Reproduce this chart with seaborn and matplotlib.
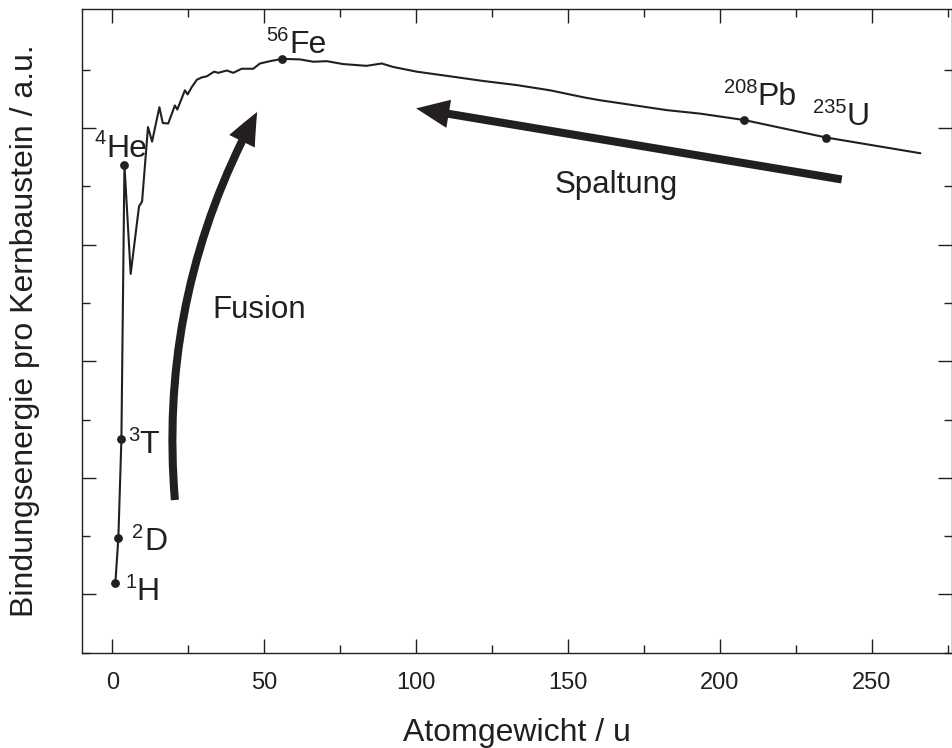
import matplotlib
matplotlib.use("Agg")
import matplotlib.pyplot as plt
from matplotlib.patches import FancyArrowPatch
from matplotlib.ticker import FixedLocator, MultipleLocator, NullFormatter
import seaborn as sns

# binding energy per nucleon (arbitrary units) vs. mass number
mass = [1, 2, 3, 4, 6.05, 8.8, 9.8, 11.75, 13.1, 15.5, 16.6, 18.4, 20.6, 21.4,
        23.9, 24.8, 26.1, 27.8, 29.4, 31.1, 33.5, 34.9, 37.7, 39.8, 42.6, 46.4,
        48.6, 51.9, 56, 61.8, 66.2, 70.6, 76.0, 83.7, 88.7, 92.5, 100.2, 111.2,
        122.1, 133.1, 144.1, 155.1, 160.5, 182.5, 193.5, 208, 235, 266]
energy = [1.19, 1.97, 3.67, 8.37, 6.50, 7.66, 7.74, 9.02, 8.77, 9.36, 9.09, 9.08,
          9.39, 9.32, 9.65, 9.58, 9.70, 9.83, 9.87, 9.89, 9.97, 9.95, 9.99, 9.95,
          10.02, 10.02, 10.11, 10.15, 10.19, 10.18, 10.14, 10.15, 10.10, 10.07,
          10.11, 10.05, 9.97, 9.89, 9.81, 9.74, 9.65, 9.53, 9.48, 9.31, 9.25,
          9.14, 8.84, 8.57]

# marked nuclides
nuc_sup = ["1", "2", "3", "4", "56", "208", "235"]
nuc_sym = ["H", "D", "T", "He", "Fe", "Pb", "U"]
nuc_mass = [1, 2, 3, 4, 56, 208, 235]
nuc_energy = [1.19, 1.97, 3.67, 8.37, 10.19, 9.14, 8.84]

# where each symbol sits relative to its dot (points)
label_offsets = {"H": (15.3, -12.0), "D": (18.4, -8.6), "T": (13.2, -10.1),
                 "He": (-13.2, 6.0), "Fe": (5.0, 4.3), "Pb": (9.8, 10.8),
                 "U": (14.8, 8.9)}

INK = "#231f20"

sns.set_theme(style="ticks")
plt.rcParams["font.family"] = ["Liberation Sans", "DejaVu Sans"]

fig = plt.figure(figsize=(9.52, 7.48), dpi=100)
ax = fig.add_axes([81.7 / 952, 1 - 652.7 / 748, (952 - 81.7) / 952, (652.7 - 9.3) / 748])

sns.lineplot(x=mass, y=energy, sort=False, estimator=None, color=INK, lw=1.5, ax=ax)
sns.scatterplot(x=nuc_mass, y=nuc_energy, s=40, color=INK, linewidth=0, ax=ax, zorder=3)


def nuclide_label(x, y, sup, sym):
    main = ax.annotate(sym, (x, y), xytext=label_offsets[sym], textcoords="offset points",
                       fontsize=23, ha="left", va="baseline", color=INK)
    ax.annotate(sup, xy=(0, 1), xycoords=main, xytext=(-0.3, 3), textcoords="offset points",
                fontsize=14.5, ha="right", va="top", color=INK)


for x, y, sup, sym in zip(nuc_mass, nuc_energy, nuc_sup, nuc_sym):
    nuclide_label(x, y, sup, sym)

# process arrows
style = "simple,head_length=23.8,head_width=20.5,tail_width=5.8"
ax.add_patch(FancyArrowPatch((20.6, 2.62), (47.7, 9.28), arrowstyle=style,
                             connectionstyle="arc3,rad=-0.15", mutation_scale=1,
                             shrinkA=0, shrinkB=0, color=INK, lw=0))
ax.add_patch(FancyArrowPatch((240.1, 8.12), (100.0, 9.34), arrowstyle=style,
                             connectionstyle="arc3,rad=0", mutation_scale=1,
                             shrinkA=0, shrinkB=0, color=INK, lw=0))
ax.text(32.9, 5.75, "Fusion", fontsize=22.5, color=INK, va="baseline")
ax.text(145.6, 7.88, "Spaltung", fontsize=22.5, color=INK, va="baseline")

ax.set_xlim(-10.07, 276.4)
ax.set_ylim(0, 11.04)
ax.xaxis.set_major_locator(MultipleLocator(50))
ax.xaxis.set_minor_locator(MultipleLocator(25))
ax.yaxis.set_major_locator(FixedLocator([1, 3, 5, 7, 9]))
ax.yaxis.set_minor_locator(FixedLocator([0, 2, 4, 6, 8, 10]))
ax.yaxis.set_major_formatter(NullFormatter())
ax.tick_params(which="both", direction="in", top=True, right=True, width=1,
               color=INK, labelcolor=INK)
ax.tick_params(which="major", length=9.9, pad=14, labelsize=17)
ax.tick_params(which="minor", length=5.5)
for sp in ax.spines.values():
    sp.set_linewidth(1.0)
    sp.set_color(INK)

ax.set_xlabel("Atomgewicht / u", fontsize=23, color=INK, labelpad=17)
ax.set_ylabel("Bindungsenergie pro Kernbaustein / a.u.", fontsize=23, color=INK)
ax.yaxis.set_label_coords(-0.048, 0.5)

fig.savefig("out.png", dpi=100)
